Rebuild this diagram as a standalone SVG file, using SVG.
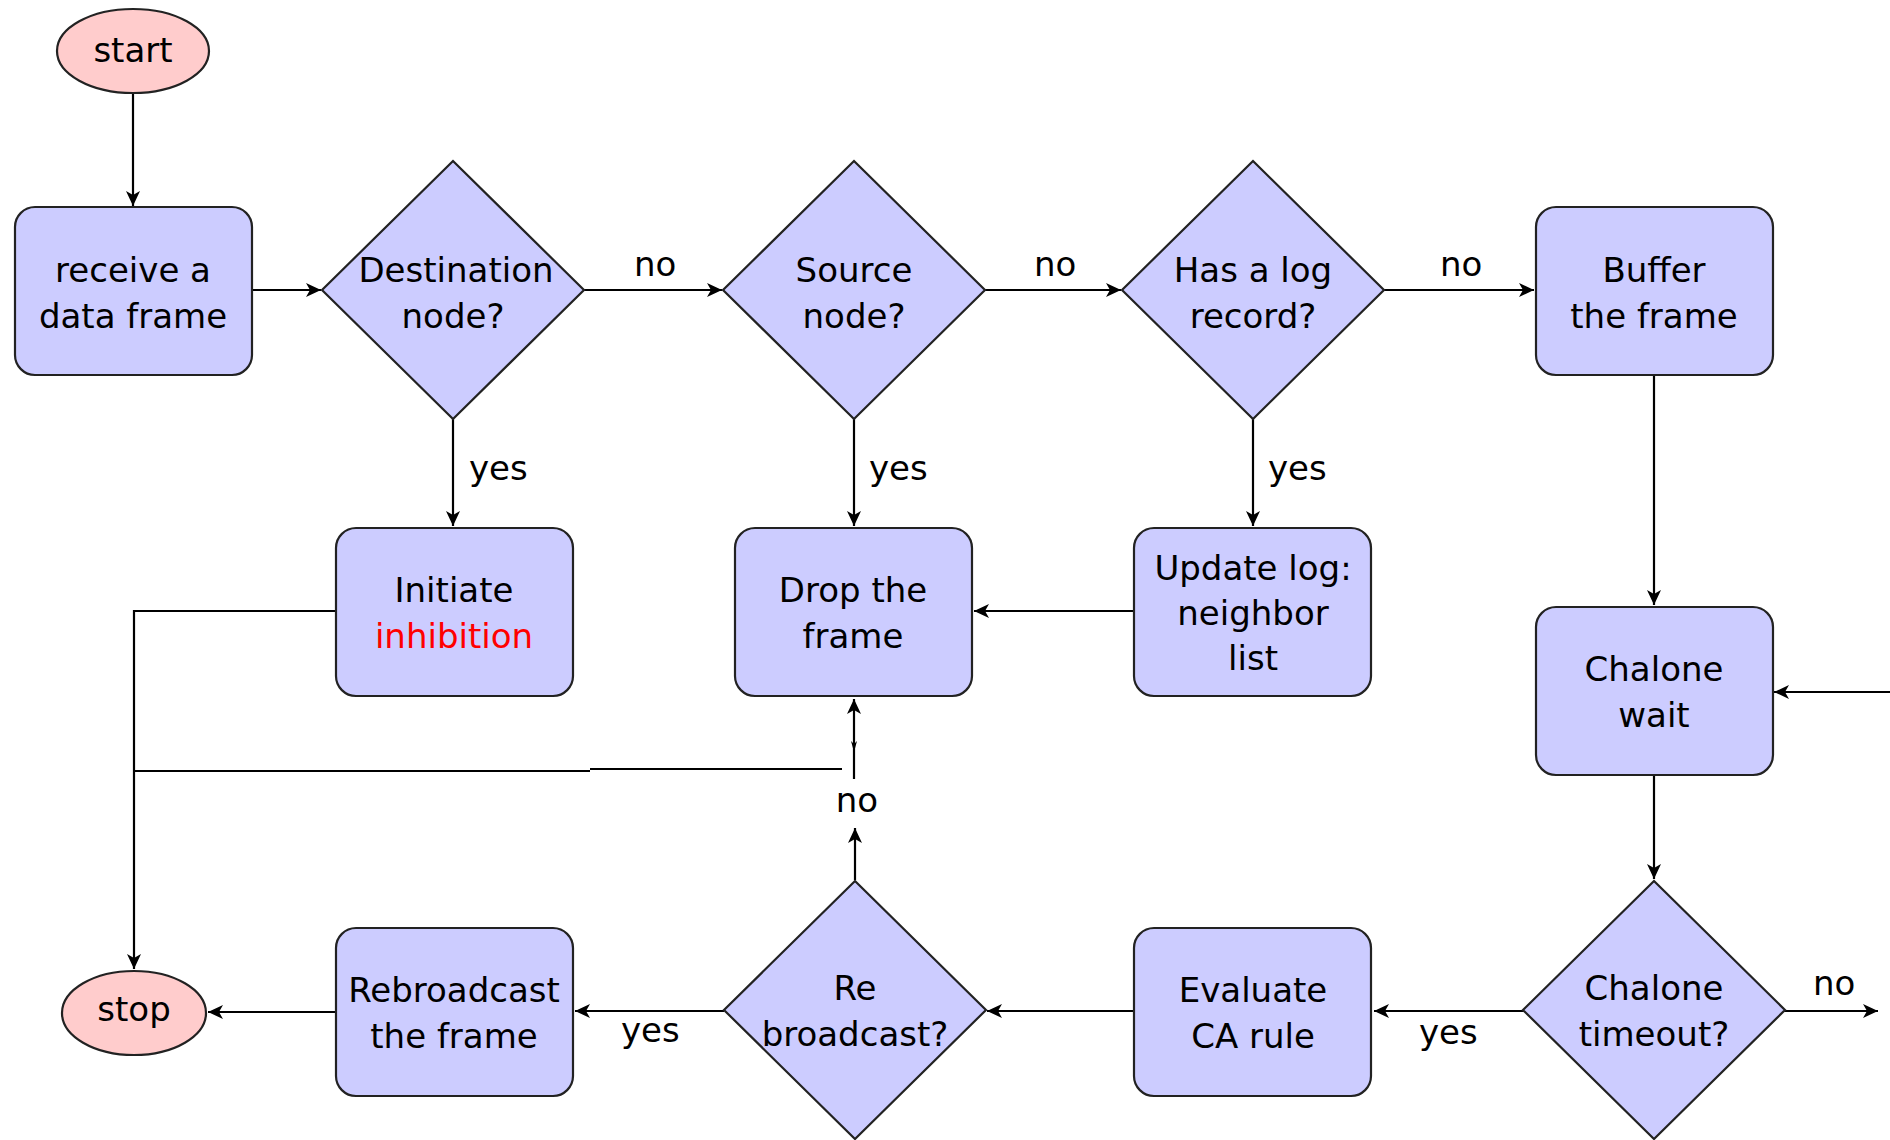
<svg xmlns="http://www.w3.org/2000/svg" width="1890" height="1140" viewBox="0 0 1890 1140">
<defs>
<marker id="arr" viewBox="-16 -8 17 16" markerWidth="17" markerHeight="16" refX="0" refY="0" orient="auto" markerUnits="userSpaceOnUse">
<path d="M0,0 L-15,-7 L-11,0 L-15,7 Z" fill="#000"/>
</marker>
</defs>
<style>
.box{fill:#ccccff;stroke:#222;stroke-width:2.2}
.term{fill:#ffcccc;stroke:#222;stroke-width:2.2}
.t{font-family:"DejaVu Sans","Liberation Sans",sans-serif;font-size:34px;fill:#000;text-anchor:middle}
.l{font-family:"DejaVu Sans","Liberation Sans",sans-serif;font-size:34px;fill:#000}
.c{fill:none;stroke:#000;stroke-width:2.2}
.a{marker-end:url(#arr)}
</style>
<rect width="1890" height="1140" fill="#fff"/>

<g id="connectors">
<line class="c a" x1="133" y1="93" x2="133" y2="206"/>
<line class="c a" x1="252" y1="290" x2="321" y2="290"/>
<line class="c a" x1="584" y1="290" x2="722" y2="290"/>
<line class="c a" x1="985" y1="290" x2="1121" y2="290"/>
<line class="c a" x1="1384" y1="290" x2="1534" y2="290"/>
<line class="c a" x1="453" y1="419" x2="453" y2="526"/>
<line class="c a" x1="854" y1="419" x2="854" y2="526"/>
<line class="c a" x1="1253" y1="419" x2="1253" y2="526"/>
<line class="c a" x1="1134" y1="611" x2="974" y2="611"/>
<line class="c a" x1="1654" y1="375" x2="1654" y2="605"/>
<line class="c a" x1="1654" y1="775" x2="1654" y2="879"/>
<line class="c a" x1="1524" y1="1011" x2="1374" y2="1011"/>
<line class="c a" x1="1134" y1="1011" x2="987" y2="1011"/>
<line class="c a" x1="724" y1="1011" x2="575" y2="1011"/>
<line class="c a" x1="336" y1="1012" x2="208" y2="1012"/>
<polyline class="c a" points="336,611 134,611 134,969"/>
<line class="c" x1="134" y1="771" x2="590" y2="771"/>
<line class="c" x1="590" y1="769" x2="842" y2="769"/>
<line class="c a" x1="855" y1="880" x2="855" y2="828"/>
<line class="c a" x1="854" y1="779" x2="854" y2="699"/>
<path d="M854,752 L851,741 L854,744 L857,741 Z" fill="#000"/>
<line class="c a" x1="1784" y1="1011" x2="1878" y2="1011"/>
<line class="c a" x1="1890" y1="692" x2="1774" y2="692"/>
<text class="l" x="634" y="276">no</text>
<text class="l" x="1034" y="276">no</text>
<text class="l" x="1440" y="276">no</text>
<text class="l" x="469" y="480">yes</text>
<text class="l" x="869" y="480">yes</text>
<text class="l" x="1268" y="480">yes</text>
<text class="t" x="857" y="812">no</text>
<text class="l" x="621" y="1042">yes</text>
<text class="l" x="1419" y="1044">yes</text>
<text class="l" x="1813" y="995">no</text>
</g>

<g id="start">
<ellipse class="term" cx="133" cy="51" rx="76" ry="42"/>
<text class="t" x="133" y="62">start</text>
</g>
<g id="receive">
<rect class="box" x="15" y="207" width="237" height="168" rx="20"/>
<text class="t" x="133" y="282">receive a</text>
<text class="t" x="133" y="328">data frame</text>
</g>
<g id="destination">
<polygon class="box" points="453,161 584,290 453,419 322,290"/>
<text class="t" x="456" y="282">Destination</text>
<text class="t" x="453" y="328">node?</text>
</g>
<g id="source">
<polygon class="box" points="854,161 985,290 854,419 723,290"/>
<text class="t" x="854" y="282">Source</text>
<text class="t" x="854" y="328">node?</text>
</g>
<g id="haslog">
<polygon class="box" points="1253,161 1384,290 1253,419 1122,290"/>
<text class="t" x="1253" y="282">Has a log</text>
<text class="t" x="1253" y="328">record?</text>
</g>
<g id="buffer">
<rect class="box" x="1536" y="207" width="237" height="168" rx="20"/>
<text class="t" x="1654" y="282">Buffer</text>
<text class="t" x="1654" y="328">the frame</text>
</g>
<g id="initiate">
<rect class="box" x="336" y="528" width="237" height="168" rx="20"/>
<text class="t" x="454" y="602">Initiate</text>
<text class="t" x="454" y="648" style="fill:#ff0000">inhibition</text>
</g>
<g id="drop">
<rect class="box" x="735" y="528" width="237" height="168" rx="20"/>
<text class="t" x="853" y="602">Drop the</text>
<text class="t" x="853" y="648">frame</text>
</g>
<g id="update">
<rect class="box" x="1134" y="528" width="237" height="168" rx="20"/>
<text class="t" x="1253" y="580">Update log:</text>
<text class="t" x="1253" y="625">neighbor</text>
<text class="t" x="1253" y="670">list</text>
</g>
<g id="chalonewait">
<rect class="box" x="1536" y="607" width="237" height="168" rx="20"/>
<text class="t" x="1654" y="681">Chalone</text>
<text class="t" x="1654" y="727">wait</text>
</g>
<g id="chalonetimeout">
<polygon class="box" points="1654,881 1785,1010 1654,1139 1523,1010"/>
<text class="t" x="1654" y="1000">Chalone</text>
<text class="t" x="1654" y="1046">timeout?</text>
</g>
<g id="evaluate">
<rect class="box" x="1134" y="928" width="237" height="168" rx="20"/>
<text class="t" x="1253" y="1002">Evaluate</text>
<text class="t" x="1253" y="1048">CA rule</text>
</g>
<g id="rebroadcastq">
<polygon class="box" points="855,881 986,1010 855,1139 724,1010"/>
<text class="t" x="855" y="1000">Re</text>
<text class="t" x="855" y="1046">broadcast?</text>
</g>
<g id="rebroadcast">
<rect class="box" x="336" y="928" width="237" height="168" rx="20"/>
<text class="t" x="454" y="1002">Rebroadcast</text>
<text class="t" x="454" y="1048">the frame</text>
</g>
<g id="stop">
<ellipse class="term" cx="134" cy="1013" rx="72" ry="42"/>
<text class="t" x="134" y="1021">stop</text>
</g>
</svg>
